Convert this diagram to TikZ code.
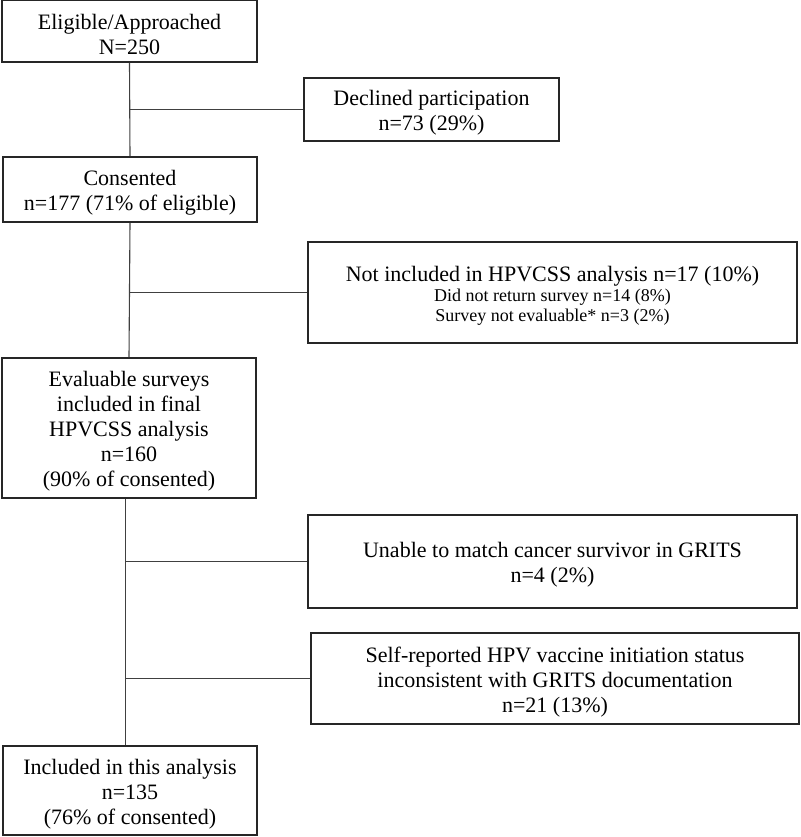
\documentclass[tikz,border=0pt]{standalone}
\usepackage{fontspec}
\setmainfont{Liberation Serif}

\begin{document}
\begin{tikzpicture}[x=1pt, y=-1pt,
    box/.style={draw=black!85, line width=1.8pt, inner sep=0pt},
    boxtext/.style={align=center, inner sep=0pt, font=\mainsize},
    link/.style={draw=black!75, line width=1.1pt}]
    \def\mainsize{\fontsize{22}{25}\selectfont}
    \def\smallsize{\fontsize{18}{20}\selectfont}

    % box outline, then its text a little below the centre
    \def\flowbox#1#2#3#4#5#6{%
        \node[box, minimum width=#4pt, minimum height=#5pt] (#1) at (#2,#3) {};
        \node[boxtext] (#1-txt) at ([yshift=-3.5pt]#1.center) {#6};
    }

    \useasboundingbox (0,0) rectangle (800,837);

    % left column: (x, y) centre, width, height
    \flowbox{elig}{129.5}{31}{255}{62}{Eligible/Approached\\N=250}
    \flowbox{consent}{130}{189.5}{254}{65}{Consented\\n=177 (71\% of eligible)}
    \flowbox{eval}{129}{428}{254}{140}{Evaluable surveys\\included in final\\HPVCSS analysis\\n=160\\(90\% of consented)}
    \flowbox{incl}{130}{790.5}{254}{89}{Included in this analysis\\n=135\\(76\% of consented)}

    % right column
    \flowbox{declined}{431.5}{109.5}{255}{63}{Declined participation\\n=73 (29\%)}
    \flowbox{notinc}{552.5}{292.5}{489}{101}{}
    \node[boxtext, font=\smallsize] (notinc-lines) at ([yshift=-3.5pt]notinc.center)
        {{\mainsize Not included in HPVCSS analysis n=17 (10\%)}\\Did not return survey n=14 (8\%)\\Survey not evaluable* n=3 (2\%)};
    \flowbox{unable}{552.5}{561.5}{489}{93}{Unable to match cancer survivor in GRITS\\n=4 (2\%)}
    \flowbox{selfrep}{555}{678.5}{488}{91}{Self-reported HPV vaccine initiation status\\inconsistent with GRITS documentation\\n=21 (13\%)}

    % trunk lines
    \draw[link] (elig.south) -- (consent.north);
    \draw[link] (consent.south) -- (eval.north);
    \coordinate (trunk) at ([xshift=-3.5pt]eval.south);
    \draw[link] (trunk) -- (trunk |- incl.north);

    % side branches
    \draw[link] (elig.south |- declined.west) -- (declined.west);
    \draw[link] (consent.south |- notinc.west) -- (notinc.west);
    \draw[link] (trunk |- unable.west) -- (unable.west);
    \draw[link] (trunk |- selfrep.west) -- (selfrep.west);

\end{tikzpicture}
\end{document}
